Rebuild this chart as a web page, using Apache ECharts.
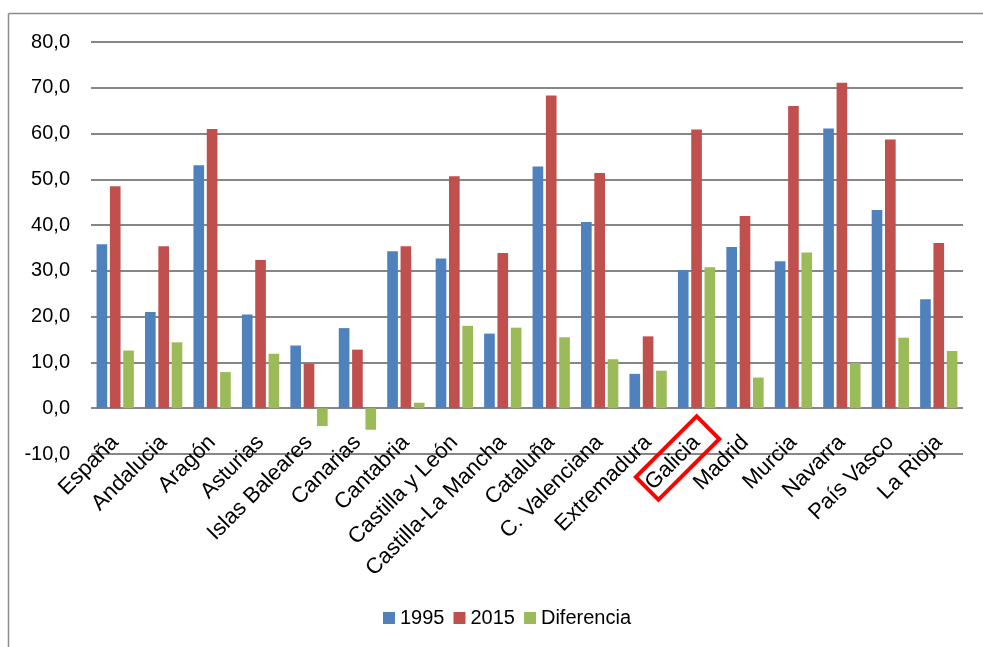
<!DOCTYPE html>
<html>
<head>
<meta charset="utf-8">
<script src="https://cdn.jsdelivr.net/npm/echarts@6/dist/echarts.min.js"></script>
<style>
  html, body { margin: 0; padding: 0; background: #fff; }
  #all { width: 983px; height: 647px; }
</style>
</head>
<body>
<div id="all"></div>
<script>
var regiones = ['España', 'Andalucia', 'Aragón', 'Asturias', 'Islas Baleares', 'Canarias', 'Cantabria',
    'Castilla y León', 'Castilla-La Mancha', 'Cataluña', 'C. Valenciana', 'Extremadura', 'Galicia',
    'Madrid', 'Murcia', 'Navarra', 'País Vasco', 'La Rioja'];
var v1995 = [35.8, 21.0, 53.1, 20.5, 13.7, 17.5, 34.3, 32.7, 16.3, 52.8, 40.7, 7.5, 30.2, 35.2, 32.1, 61.1, 43.3, 23.8];
var v2015 = [48.5, 35.4, 61.0, 32.4, 9.7, 12.8, 35.4, 50.7, 33.9, 68.3, 51.4, 15.7, 60.9, 42.0, 66.0, 71.1, 58.7, 36.1];
var diferencia = [12.6, 14.4, 7.9, 11.9, -3.9, -4.7, 1.2, 18.0, 17.6, 15.5, 10.7, 8.2, 30.8, 6.7, 34.0, 9.9, 15.4, 12.5];
var marcada = 'Galicia';

var myChart = echarts.init(document.getElementById('all'));

var fuente = 'Liberation Sans, Arial, sans-serif';

option = {
    animation: false,
    color: ['#4f81bd', '#c0504d', '#9bbb59'],
    textStyle: { fontFamily: fuente },
    grid: { left: 91, right: 20, top: 42, bottom: 193, containLabel: false },
    legend: {
        top: 603,
        left: 378,
        icon: 'rect',
        itemWidth: 12,
        itemHeight: 12,
        itemGap: 9,
        textStyle: { fontSize: 20, color: '#000', fontFamily: fuente },
        data: ['1995', '2015', 'Diferencia']
    },
    xAxis: {
        type: 'category',
        data: regiones,
        axisLine: { show: false },
        axisTick: { show: false },
        axisLabel: {
            interval: 0,
            rotate: 45,
            fontSize: 22,
            color: '#000',
            margin: -15,
            fontFamily: fuente
        }
    },
    yAxis: {
        type: 'value',
        min: -10,
        max: 80,
        interval: 10,
        axisLine: { show: false },
        axisTick: { show: false },
        axisLabel: {
            fontSize: 20,
            color: '#000',
            margin: 21,
            fontFamily: fuente,
            formatter: function (v) { return v.toFixed(1).replace('.', ','); }
        },
        splitLine: { lineStyle: { color: '#868686', width: 2 } }
    },
    series: [
        { name: '1995', type: 'bar', data: v1995, barGap: '25%', barCategoryGap: '23%' },
        { name: '2015', type: 'bar', data: v2015 },
        { name: 'Diferencia', type: 'bar', data: diferencia }
    ]
};

myChart.setOption(option);

// marco y recuadro rojo alrededor de la etiqueta marcada
var px = myChart.convertToPixel({ xAxisIndex: 0 }, marcada);
var cx = px - 19, cy = 458;
myChart.setOption({
    graphic: [
        { type: 'line', shape: { x1: 8.5, y1: 13.5, x2: 983, y2: 13.5 }, style: { stroke: '#8c8c8c', lineWidth: 1.5 } },
        { type: 'line', shape: { x1: 8.5, y1: 13.5, x2: 8.5, y2: 647 }, style: { stroke: '#8c8c8c', lineWidth: 1.5 } },
        {
            type: 'rect',
            x: cx, y: cy,
            rotation: Math.PI / 4,
            shape: { x: -43, y: -16, width: 86, height: 32 },
            style: { fill: 'none', stroke: '#ff0000', lineWidth: 4 },
            z: 100
        }
    ]
});

window.onresize = myChart.resize;
</script>
</body>
</html>
